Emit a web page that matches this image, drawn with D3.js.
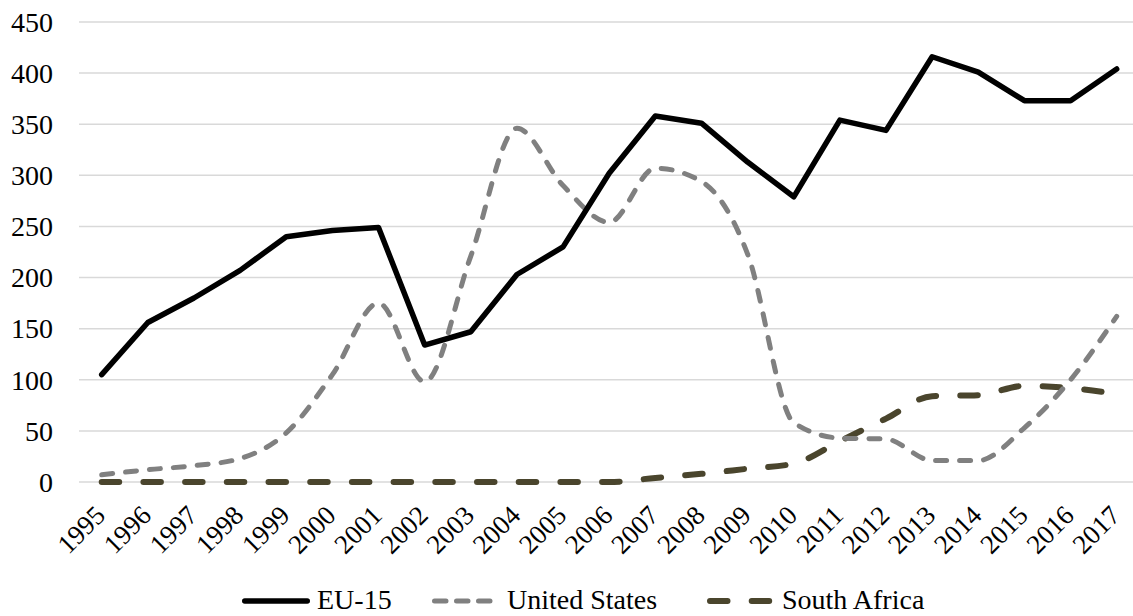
<!DOCTYPE html>
<html>
<head>
<meta charset="utf-8">
<script src="https://cdn.jsdelivr.net/npm/d3@7"></script>
<style>
  html, body { margin: 0; padding: 0; background: #fff; }
  svg { display: block; }
  text { font-family: "Liberation Serif", "Times New Roman", serif; fill: #000; }
</style>
</head>
<body>
<svg id="chart" width="1133" height="616"></svg>
<script>
const years = ["1995","1996","1997","1998","1999","2000","2001","2002","2003","2004","2005","2006","2007","2008","2009","2010","2011","2012","2013","2014","2015","2016","2017"];
const eu15 = [105,156,180,207,240,246,249,134,147,203,230,302,358,351,313,279,354,344,416,401,373,373,404];
const unitedStates = [7,12,16,23,48,105,175,98,221,346,290,254,307,294,223,58,43,42,21,21,53,100,162];
const southAfrica = [0,0,0,0,0,0,0,0,0,0,0,0,4,8,13,18,40,62,84,85,94,92,86];
const yTicks = [0,50,100,150,200,250,300,350,400,450];
const seriesNames = ["EU-15","United States","South Africa"];

const svg = d3.select("#chart");
const x = d3.scalePoint().domain(years).range([101.7, 1116.7]);
const y = d3.scaleLinear().domain([0, 450]).range([482, 22]);

// gridlines
svg.append("g").selectAll("line").data(yTicks).join("line")
  .attr("x1", 79).attr("x2", 1133)
  .attr("y1", d => y(d)).attr("y2", d => y(d))
  .attr("stroke", "#d9d9d9").attr("stroke-width", 1.5);

// y labels
svg.append("g").selectAll("text").data(yTicks).join("text")
  .attr("x", 53).attr("y", d => y(d)).attr("dy", "0.35em")
  .attr("text-anchor", "end").style("font-size", "28px")
  .text(d => d);

// x labels
svg.append("g").selectAll("text").data(years).join("text")
  .attr("text-anchor", "end").style("font-size", "27px")
  .attr("transform", d => `translate(${x(d) + 5},517) rotate(-45)`)
  .text(d => d);

const styles = [
  { data: eu15, color: "#000000", width: 5.5, dash: null, curve: d3.curveLinear, cap: "round" },
  { data: unitedStates, color: "#808080", width: 5, dash: "11,13", curve: d3.curveMonotoneX, cap: "round" },
  { data: southAfrica, color: "#4a452d", width: 6, dash: "17.5,24.2", curve: d3.curveMonotoneX, cap: "round" }
];

// draw order: SA bottom, US, EU on top
[2,1,0].forEach(i => {
  const s = styles[i];
  const line = d3.line().x((d, j) => x(years[j])).y(d => y(d)).curve(s.curve);
  svg.append("path").datum(s.data)
    .attr("d", line)
    .attr("fill", "none")
    .attr("stroke", s.color)
    .attr("stroke-width", s.width)
    .attr("stroke-linecap", s.cap)
    .attr("stroke-linejoin", "round")
    .attr("stroke-dasharray", s.dash);
});

// legend
const legendX = [242, 432, 707];
const legendLineY = 601;
const legendTextY = 609;
const lg = svg.append("g");
seriesNames.forEach((name, i) => {
  const s = styles[i];
  const x0 = legendX[i];
  lg.append("line")
    .attr("x1", x0 + s.width / 2).attr("x2", x0 + 68 - s.width / 2)
    .attr("y1", legendLineY).attr("y2", legendLineY)
    .attr("stroke", s.color).attr("stroke-width", s.width)
    .attr("stroke-linecap", s.cap)
    .attr("stroke-dasharray", i === 1 ? "11.5,10.5" : s.dash);
  lg.append("text")
    .attr("x", x0 + 75).attr("y", legendTextY)
    .style("font-size", "28px")
    .text(name);
});
</script>
</body>
</html>
